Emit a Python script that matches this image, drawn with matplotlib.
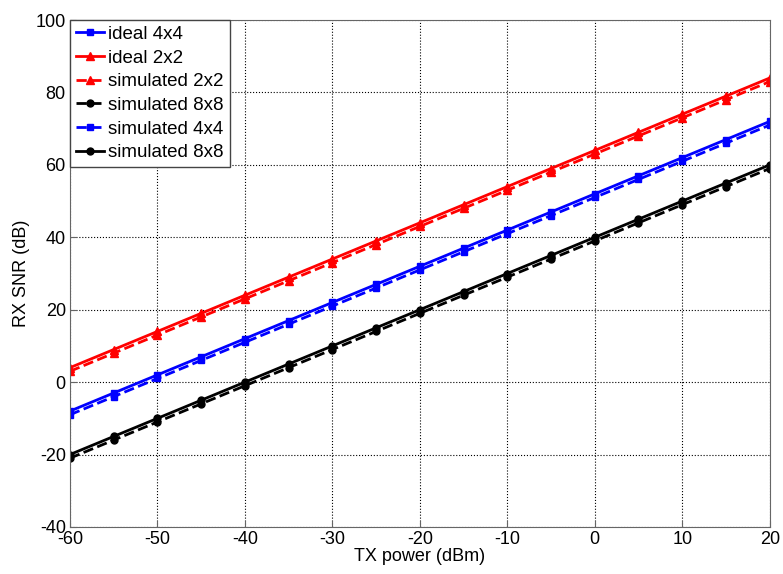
import matplotlib
matplotlib.use('Agg')
import matplotlib.pyplot as plt

plt.rcParams['font.family'] = ['Liberation Sans', 'DejaVu Sans']
plt.rcParams['axes.unicode_minus'] = False

tx_power = [-60, -55, -50, -45, -40, -35, -30, -25, -20, -15, -10, -5, 0, 5, 10, 15, 20]

ideal_4x4 = [-8, -3, 2, 7, 12, 17, 22, 27, 32, 37, 42, 47, 52, 57, 62, 67, 72]
ideal_2x2 = [4, 9, 14, 19, 24, 29, 34, 39, 44, 49, 54, 59, 64, 69, 74, 79, 84]
sim_2x2 = [3, 8, 13, 18, 23, 28, 33, 38, 43, 48, 53, 58, 63, 68, 73, 78, 83]
sim_8x8_dash = [-21, -16, -11, -6, -1, 4, 9, 14, 19, 24, 29, 34, 39, 44, 49, 54, 59]
sim_4x4 = [-9, -4, 1, 6, 11, 16, 21, 26, 31, 36, 41, 46, 51, 56, 61, 66, 71]
sim_8x8 = [-20, -15, -10, -5, 0, 5, 10, 15, 20, 25, 30, 35, 40, 45, 50, 55, 60]

fig = plt.figure(figsize=(7.83, 5.74), dpi=100)
ax = fig.add_axes([0.0894, 0.082, 0.8936, 0.883])

lw = 2.0
ax.plot(tx_power, ideal_4x4, 'b-s', lw=lw, ms=5, label='ideal 4x4')
ax.plot(tx_power, ideal_2x2, 'r-^', lw=lw, ms=6, label='ideal 2x2')
ax.plot(tx_power, sim_2x2, 'r--^', lw=lw, ms=6, label='simulated 2x2')
ax.plot(tx_power, sim_8x8_dash, 'k--o', lw=lw, ms=5, label='simulated 8x8')
ax.plot(tx_power, sim_4x4, 'b--s', lw=lw, ms=5, label='simulated 4x4')
ax.plot(tx_power, sim_8x8, 'k-o', lw=lw, ms=5, label='simulated 8x8')

ax.set_xlim(-60, 20)
ax.set_ylim(-40, 100)
ax.set_xticks(range(-60, 21, 10))
ax.set_yticks(range(-40, 101, 20))
ax.grid(True, color='black', linestyle=':', linewidth=0.8)
ax.tick_params(direction='in', labelsize=13, length=4, color='#666666', pad=3)
for s in ax.spines.values():
    s.set_color('#666666')
ax.set_xlabel('TX power (dBm)', fontsize=13, labelpad=0)
ax.set_ylabel('RX SNR (dB)', fontsize=13, labelpad=4)

leg = ax.legend(loc='upper left', fontsize=13.5, handlelength=1.5, handletextpad=0.25,
                borderaxespad=0.0, borderpad=0.3, labelspacing=0.35, fancybox=False,
                framealpha=1)
leg.get_frame().set_edgecolor('#444444')

plt.savefig('out.png')
